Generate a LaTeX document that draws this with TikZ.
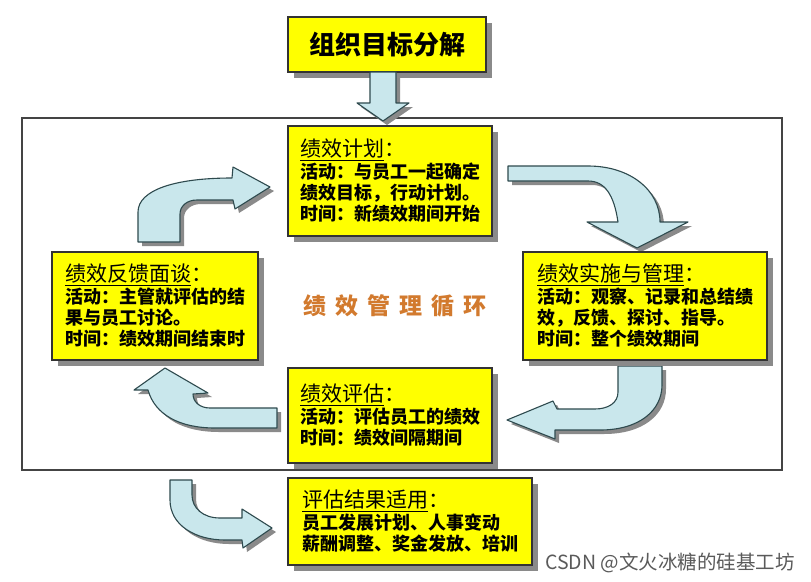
\documentclass[tikz,border=0pt]{standalone}
\usepackage{fontspec}
\setmainfont{Noto Sans CJK SC}
\usetikzlibrary{shadows}
\definecolor{boxyellow}{HTML}{FFFF00}
\definecolor{boxline}{HTML}{333333}
\definecolor{shadowgray}{HTML}{8A8A8A}
\definecolor{arrowfill}{HTML}{C9E7EC}
\definecolor{arrowline}{HTML}{2E4A4E}
\definecolor{cycletext}{HTML}{D27A2E}
\definecolor{framecol}{HTML}{444444}
\definecolor{wmgray}{HTML}{5A5A5A}
\newcommand{\boxtitle}[1]{{\fontsize{21}{25}\selectfont\mdseries\underline{#1}：}}
\tikzset{
  ybox/.style={draw=boxline, line width=1.3pt, fill=boxyellow, inner sep=0pt,
    align=left, font=\fontsize{18}{21}\selectfont\bfseries,
    drop shadow={shadow xshift=6pt, shadow yshift=-6pt, fill=shadowgray, opacity=1}},
  barrow/.style={fill=arrowfill, draw=arrowline, line width=1.1pt, line join=round,
    drop shadow={shadow xshift=4pt, shadow yshift=-4pt, fill=shadowgray, opacity=1}},
  framebox/.style={draw=framecol, line width=1.2pt, inner sep=0pt}
}
\begin{document}
\begin{tikzpicture}[x=1pt, y=-1pt]
\useasboundingbox[fill=white] (0,0) rectangle (811,581);

% frame
\node[framebox, minimum width=760pt, minimum height=352pt] (frame) at (402,294) {};

% top box and arrow
\node[ybox, minimum width=198pt, minimum height=55pt, align=center,
  font=\fontsize{26}{30}\selectfont\bfseries] (goal) at (387,44.5) {组织目标分解};
\path[barrow] (370,72) -- (370,103) -- (357,103) -- (383,121) -- (409,103)
  -- (396,103) -- (396,72) -- cycle;

% curved arrows
\path[barrow] (508,166) -- (588,166) .. controls (630,166) and (660,190) .. (660,222)
  -- (688,222) -- (637,248) -- (587,222) -- (618,222)
  .. controls (614,195) and (605,181) .. (588,181) -- (508,181) -- cycle;
\path[barrow] (618,366) -- (618,392) .. controls (618,403) and (608,409) .. (595,409)
  -- (557,409) -- (553,401) -- (507,420) -- (555,439) -- (555,430) -- (600,430)
  .. controls (640,430) and (662,410) .. (662,385) -- (662,366) -- cycle;
\path[barrow] (277,408) -- (210,408) .. controls (200,408) and (193,402) .. (193,394)
  -- (208,393) -- (165,368) -- (134,390) -- (148,390)
  .. controls (155,415) and (180,428) .. (215,428) -- (277,428) -- cycle;
\path[barrow] (138,242) -- (138,212) .. controls (138,190) and (175,178) .. (232,178)
  -- (233,167) -- (270,187) -- (235,209) -- (233,200) -- (197,200)
  .. controls (187,200) and (180,206) .. (180,214) -- (180,242) -- cycle;
\path[barrow] (170,480) -- (170,500) .. controls (170,525) and (195,540) .. (225,540)
  -- (242,540) -- (243,548) -- (272,528) -- (242,509) -- (242,518) -- (220,518)
  .. controls (203,518) and (192,508) .. (192,495) -- (192,480) -- cycle;

% boxes
\node[ybox, minimum width=204pt, minimum height=110pt] (plan) at (390,181)
  {\boxtitle{绩效计划}\\[1pt]
   活动：与员工一起确定\\
   绩效目标，行动计划。\\
   时间：新绩效期间开始};
\node[ybox, minimum width=206pt, minimum height=108pt] (feedback) at (155,306)
  {\boxtitle{绩效反馈面谈}\\[1pt]
   活动：主管就评估的结\\
   果与员工讨论。\\
   时间：绩效期间结束时};
\node[ybox, minimum width=244pt, minimum height=108pt] (implement) at (645,306)
  {\boxtitle{绩效实施与管理}\\[1pt]
   活动：观察、记录和总结绩\\
   效，反馈、探讨、指导。\\
   时间：整个绩效期间};
\node[ybox, minimum width=204pt, minimum height=95pt] (evaluate) at (390,415.5)
  {\boxtitle{绩效评估}\\[1pt]
   活动：评估员工的绩效\\
   时间：绩效间隔期间};
\node[ybox, minimum width=244pt, minimum height=87pt] (apply) at (410,521.5)
  {\boxtitle{评估结果适用}\\[1pt]
   员工发展计划、人事变动\\
   薪酬调整、奖金发放、培训};

% centre label
\node[font=\fontsize{23}{28}\selectfont\bfseries, text=cycletext] (cycle) at (395,306)
  {绩\hspace{9pt}效\hspace{9pt}管\hspace{9pt}理\hspace{9pt}循\hspace{9pt}环};

% watermark
\node[font=\fontsize{19.5}{24}\selectfont, text=wmgray, anchor=west, inner sep=0pt] (wm) at (545,563)
  {CSDN @文火冰糖的硅基工坊};
\end{tikzpicture}
\end{document}
